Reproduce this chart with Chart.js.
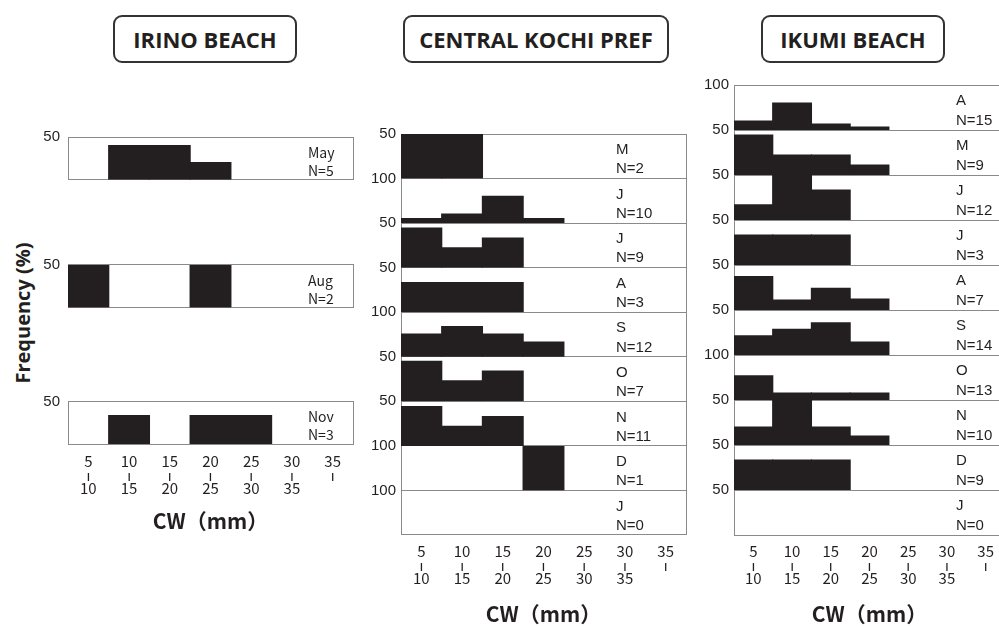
<!DOCTYPE html>
<html>
<head>
<meta charset="utf-8">
<script src="https://cdn.jsdelivr.net/npm/chart.js@4.4.0/dist/chart.umd.min.js"></script>
<style>
    html, body { margin: 0; padding: 0; width: 999px; height: 626px; overflow: hidden; background: #fff; }
    .title-box {
        position: absolute; top: 15px; height: 48px; box-sizing: border-box;
        border: 2.5px solid #333; border-radius: 9px;
        font-family: 'Open Sans', sans-serif; font-weight: 700; font-size: 22px; color: #231f20;
        display: flex; align-items: center; justify-content: center; white-space: nowrap;
    }
    .panel { position: absolute; }
    #ylabel {
        position: absolute; left: 22px; top: 313px; white-space: nowrap;
        font-family: 'Open Sans', sans-serif; font-weight: 700; font-size: 20px; color: #231f20;
        transform: translate(-50%, -50%) rotate(-90deg);
    }
</style>
</head>
<body>
<div class="title-box" style="left:113px; width:184px;">IRINO BEACH</div>
<div class="title-box" style="left:403px; width:266px;">CENTRAL KOCHI PREF</div>
<div class="title-box" style="left:761px; width:184px;">IKUMI BEACH</div>
<div id="ylabel">Frequency (%)</div>

<canvas id="irino" class="panel" width="370" height="414" style="left:0; top:120px;"></canvas>
<canvas id="central" class="panel" width="380" height="507" style="left:320px; top:120px;"></canvas>
<canvas id="ikumi" class="panel" width="375" height="557" style="left:650px; top:70px;"></canvas>

<script>
// size classes (CW, mm)
const binLow = ['5', '10', '15', '20', '25', '30', '35'];
const binHigh = ['10', '15', '20', '25', '30', '35', ''];

// IRINO BEACH
const irinoMonths = ['May', 'Aug', 'Nov'];
const irinoN = [5, 2, 3];
const irinoMax = [50, 50, 50];
const irinoFreq = [
    [0, 40, 40, 20],
    [50, 0, 0, 50],
    [0, 33.3, 0, 33.3, 33.3]
];

// CENTRAL KOCHI PREF
const centralMonths = ['M', 'J', 'J', 'A', 'S', 'O', 'N', 'D', 'J'];
const centralN = [2, 10, 9, 3, 12, 7, 11, 1, 0];
const centralMax = [50, 100, 50, 50, 100, 50, 50, 100, 100];
const centralFreq = [
    [50, 50],
    [10, 20, 60, 10],
    [44.4, 22.2, 33.3],
    [33.3, 33.3, 33.3],
    [51, 68, 51, 33],
    [45, 23, 34],
    [44, 22, 33],
    [0, 0, 0, 100],
    []
];

// IKUMI BEACH
const ikumiMonths = ['A', 'M', 'J', 'J', 'A', 'S', 'O', 'N', 'D', 'J'];
const ikumiN = [15, 9, 12, 3, 7, 14, 13, 10, 9, 0];
const ikumiMax = [100, 50, 50, 50, 50, 50, 100, 50, 50, 50];
const ikumiFreq = [
    [20, 60, 13.3, 6.7],
    [44.4, 22.2, 22.2, 11.1],
    [16.7, 50, 33.3],
    [33.3, 33.3, 33.3],
    [37, 11, 24, 12],
    [21.4, 28.6, 35.7, 14.3],
    [53.8, 15.4, 15.4, 15.4],
    [20, 50, 20, 10],
    [33.3, 33.3, 33.3],
    []
];

const INK = '#231f20';
const LINE = '#8a8a8a';

function notesPlugin(cfg, rowKeys) {
    return {
        id: 'notes',
        afterDatasetsDraw(chart) {
            const ctx = chart.ctx;
            const x = chart.chartArea.right - cfg.noteInset;
            ctx.save();
            ctx.fillStyle = INK;
            ctx.font = cfg.noteFont;
            ctx.textAlign = 'left';
            ctx.textBaseline = 'middle';
            cfg.months.forEach((m, i) => {
                const s = chart.scales[rowKeys[i]];
                ctx.fillText(m, x, s.top + s.height * 0.36);
                ctx.fillText('N=' + cfg.counts[i], x, s.top + s.height * 0.79);
            });
            ctx.restore();
        }
    };
}

function buildPanel(canvasId, cfg) {
    const scales = {
        x: {
            type: 'category',
            labels: binLow.map((lo, i) => [lo, 'ı', binHigh[i]]),
            offset: true,
            grid: { display: false, drawTicks: false },
            border: { display: false },
            ticks: {
                padding: cfg.tickPad,
                autoSkip: false,
                maxRotation: 0,
                minRotation: 0,
                color: INK,
                font: { family: '"Noto Sans CJK JP", "Noto Sans", sans-serif', size: 15, lineHeight: 0.9 }
            },
            title: {
                display: true,
                text: 'CW（mm）',
                color: INK,
                padding: 0,
                font: { family: '"Noto Sans CJK JP", sans-serif', size: 21, weight: 'bold', lineHeight: 1.2 }
            },
            afterFit: s => { s.height = cfg.xHeight; }
        }
    };

    // rows (and blank gaps) stacked top to bottom
    const items = [];
    cfg.maxima.forEach((max, i) => {
        items.push({ row: i, weight: 1 });
        if (cfg.gapsAfter && cfg.gapsAfter[i]) items.push({ row: null, weight: cfg.gapsAfter[i] });
    });

    const rowKeys = [];
    const datasets = [];
    items.forEach((it, k) => {
        const key = 'y' + k;
        const isRow = it.row !== null;
        scales[key] = {
            type: 'linear',
            position: 'left',
            stack: 'rows',
            stackWeight: it.weight,
            weight: 1000 - k,
            min: 0,
            max: isRow ? cfg.maxima[it.row] : 1,
            afterBuildTicks: s => { s.ticks = [{ value: 0 }, { value: s.max }]; },
            ticks: {
                display: isRow,
                padding: cfg.yPad,
                autoSkip: false,
                color: INK,
                font: { family: '"Liberation Sans", Arial, sans-serif', size: 15 },
                callback: v => (v === 0 ? '' : String(v))
            },
            grid: { display: isRow, color: LINE, lineWidth: 1, drawTicks: false },
            border: { display: isRow, color: LINE, width: 1 },
            afterFit: s => { s.width = cfg.axisWidth; }
        };
        scales['r' + k] = {
            type: 'linear',
            position: 'right',
            stack: 'edge',
            stackWeight: it.weight,
            weight: k,
            min: 0,
            max: 1,
            ticks: { display: false },
            grid: { display: false, drawTicks: false },
            border: { display: isRow, color: LINE, width: 1 },
            afterFit: s => { s.width = 0; }
        };
        if (isRow) {
            rowKeys.push(key);
            datasets.push({
                data: cfg.freq[it.row],
                yAxisID: key,
                backgroundColor: INK,
                borderWidth: 0,
                // slight overlap so neighbouring bars join without a seam
                inflateAmount: c => (c.raw ? 0.6 : 0),
                barPercentage: 1,
                categoryPercentage: 1,
                grouped: false
            });
        }
    });

    return new Chart(document.getElementById(canvasId), {
        type: 'bar',
        data: { datasets: datasets },
        options: {
            responsive: false,
            animation: false,
            layout: { padding: { top: cfg.padTop, right: cfg.padRight, left: 0, bottom: 0 } },
            plugins: { legend: { display: false }, tooltip: { enabled: false } },
            scales: scales
        },
        plugins: [notesPlugin(cfg, rowKeys)]
    });
}

buildPanel('irino', {
    months: irinoMonths, counts: irinoN, maxima: irinoMax, freq: irinoFreq,
    gapsAfter: [2, 2.2],
    axisWidth: 68, padTop: 13, padRight: 17, xHeight: 90, tickPad: 11, yPad: 8,
    noteInset: 45, noteFont: '14px "Noto Sans CJK JP", "Noto Sans", sans-serif'
});

buildPanel('central', {
    months: centralMonths, counts: centralN, maxima: centralMax, freq: centralFreq,
    axisWidth: 81, padTop: 12, padRight: 14, xHeight: 92, tickPad: 10, yPad: 5,
    noteInset: 70, noteFont: '15px "Liberation Sans", Arial, sans-serif'
});

buildPanel('ikumi', {
    months: ikumiMonths, counts: ikumiN, maxima: ikumiMax, freq: ikumiFreq,
    axisWidth: 84, padTop: 15, padRight: 20, xHeight: 92, tickPad: 10, yPad: 5,
    noteInset: 49, noteFont: '15px "Liberation Sans", Arial, sans-serif'
});
</script>
</body>
</html>
